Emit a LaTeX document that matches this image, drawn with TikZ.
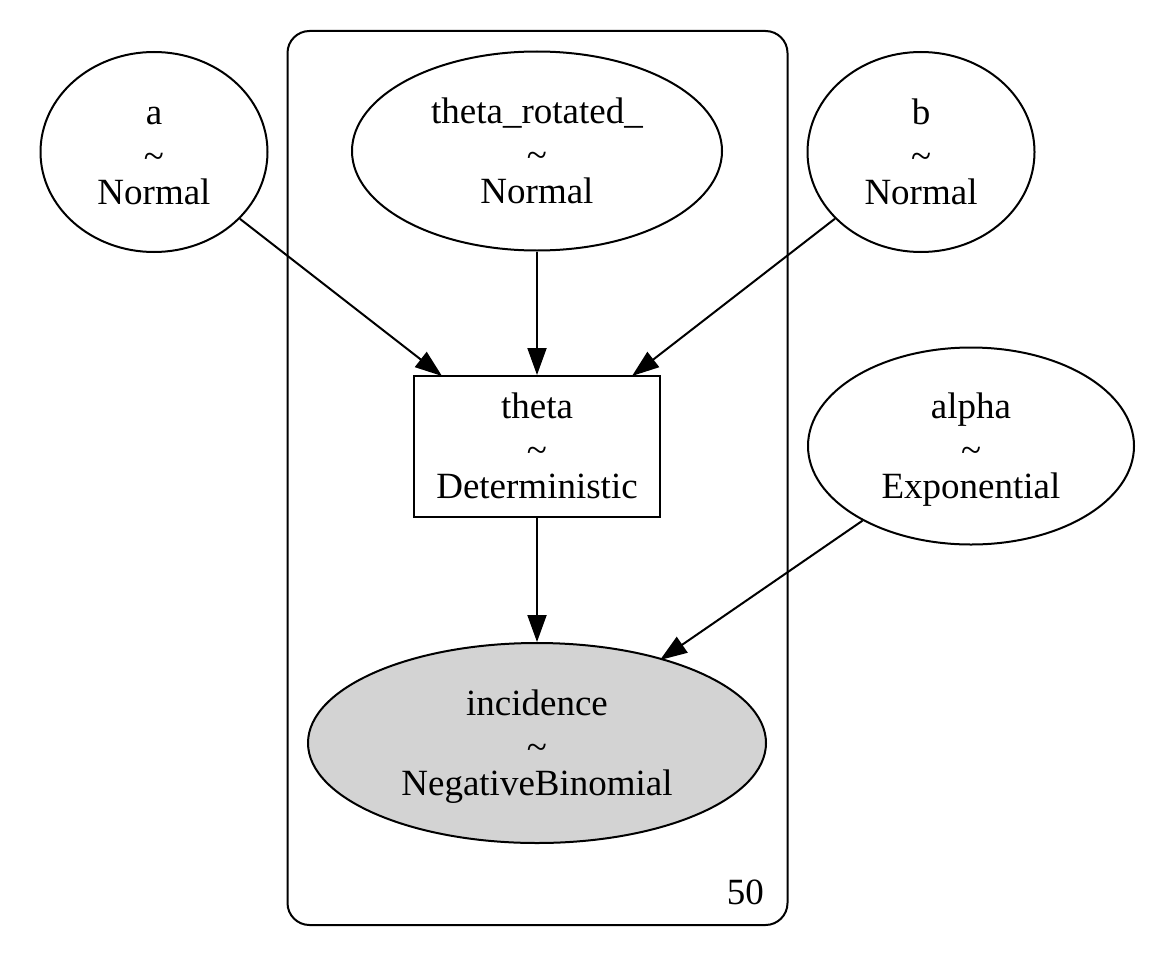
\documentclass[tikz,border=0pt]{standalone}
\usepackage{fontspec}
\setmainfont{Liberation Serif}
\usetikzlibrary{shapes.geometric,arrows.meta}
\newcommand{\lbl}[2]{\rule{0pt}{36pt}#1\\[4pt]\textasciitilde\\[-4pt]#2\strut}
\begin{document}
\begin{tikzpicture}[x=1pt,y=-1pt,
  every node/.style={font=\fontsize{37}{40}\selectfont, align=center, inner sep=0pt},
  rv/.style={ellipse, draw, line width=2pt},
  detbox/.style={rectangle, draw, line width=2pt},
  edge/.style={line width=2pt, -{Triangle[length=27pt,width=19pt]}}
]
\useasboundingbox (0,0) rectangle (1174,966);
\node[draw, line width=2pt, rounded corners=22pt, minimum width=500pt, minimum height=894pt] (plate) at (537.5,478) {};
\node[anchor=base east] (n50) at (764,904) {50};

\node[rv, minimum width=227pt, minimum height=200pt] (a) at (154,152) {\lbl{a}{Normal}};
\node[rv, minimum width=370pt, minimum height=199pt] (tr) at (537,151) {\lbl{theta\_rotated\_}{Normal}};
\node[rv, minimum width=227pt, minimum height=200pt] (b) at (921,152) {\lbl{b}{Normal}};
\node[detbox, minimum width=246pt, minimum height=141pt] (theta) at (537,446.5) {\lbl{theta}{Deterministic}};
\node[rv, minimum width=326pt, minimum height=197pt] (alpha) at (971,446) {\lbl{alpha}{Exponential}};
\node[rv, fill={rgb,255:red,211;green,211;blue,211}, minimum width=458pt, minimum height=200pt] (inc) at (537,743) {\lbl{incidence}{NegativeBinomial}};

\coordinate (ta) at (442,376);
\coordinate (tb) at (632,376);
\coordinate (ia) at (660,660);

\draw[edge] (a) -- (ta);
\draw[edge] (tr) -- (theta);
\draw[edge] (b) -- (tb);
\draw[edge] (theta) -- (inc);
\draw[edge] (alpha) -- (ia);
\end{tikzpicture}
\end{document}
